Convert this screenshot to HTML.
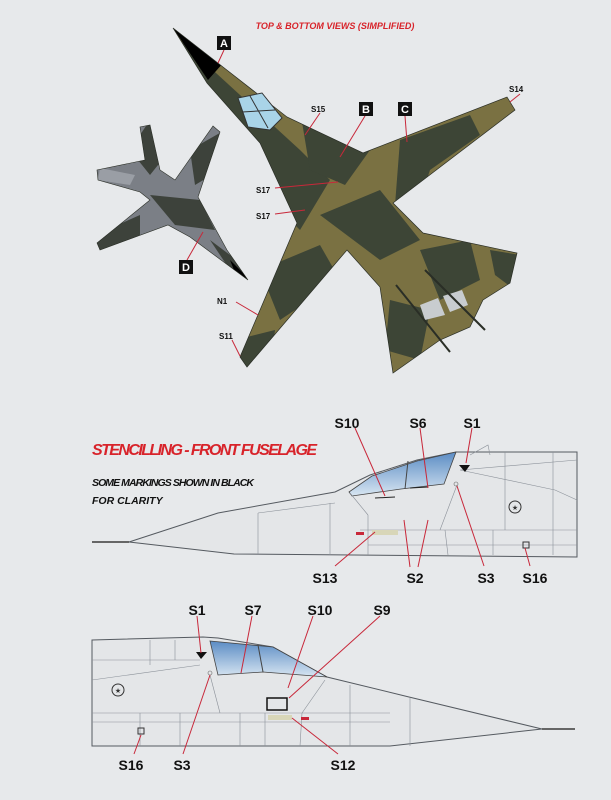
<!DOCTYPE html>
<html><head><meta charset="utf-8"><style>
html,body{margin:0;padding:0;background:#e7e9eb;}
svg{display:block}
.l{font-family:"Liberation Sans",sans-serif;font-weight:bold;font-size:14px;fill:#111;}
.r{stroke:#c8283a;stroke-width:1;fill:none}
.p{stroke:#8a9098;stroke-width:.6;fill:none}
</style></head><body>
<svg width="611" height="800" viewBox="0 0 611 800" xmlns="http://www.w3.org/2000/svg">
<defs>
<linearGradient id="cg" x1="0" y1="0" x2="0" y2="1"><stop offset="0" stop-color="#5b8cc4"/><stop offset="1" stop-color="#d8e6f2"/></linearGradient>
<clipPath id="mj"><polygon points="173,28 223,67 287,117 363,153 507,97 515,110 393,203 423,233 517,253 510,283 483,300 470,327 440,340 393,373 380,287 347,250 247,367 240,357 297,223 260,143 207,83"/></clipPath>
<clipPath id="sj"><polygon points="248,280 227,250 198,197 220,132 213,126 175,180 160,170 150,125 140,127 145,160 97,170 98,180 140,192 150,200 97,243 100,250 168,225 190,237"/></clipPath>
</defs>
<rect width="611" height="800" fill="#e7e9eb"/>
<text x="335" y="29" text-anchor="middle" font-family="Liberation Sans,sans-serif" font-style="italic" font-weight="bold" font-size="9" fill="#d8232a">TOP &amp; BOTTOM VIEWS (SIMPLIFIED)</text>

<!-- main jet -->
<g clip-path="url(#mj)">
<rect x="150" y="20" width="400" height="360" fill="#7a7142"/>
<path d="M180,40 L300,150 L330,180 L300,230 L250,180 Z" fill="#3d4536"/>
<path d="M300,110 L370,150 L345,185 L310,170 Z" fill="#3d4536"/>
<path d="M400,140 L470,115 L480,135 L430,170 L420,200 L395,205 Z" fill="#3d4536"/>
<path d="M320,215 L380,190 L420,240 L380,260 Z" fill="#3d4536"/>
<path d="M260,270 L320,245 L340,280 L280,320 Z" fill="#3d4536"/>
<path d="M235,340 L275,330 L270,370 L235,370 Z" fill="#3d4536"/>
<path d="M420,250 L470,240 L480,280 L440,300 Z" fill="#3d4536"/>
<path d="M390,300 L430,310 L420,360 L385,350 Z" fill="#3d4536"/>
<path d="M490,250 L520,255 L515,290 L495,275 Z" fill="#3d4536"/>
<polygon points="173,28 224,62 208,80" fill="#000"/>
</g>
<polygon points="173,28 223,67 287,117 363,153 507,97 515,110 393,203 423,233 517,253 510,283 483,300 470,327 440,340 393,373 380,287 347,250 247,367 240,357 297,223 260,143 207,83" fill="none" stroke="#2a2e26" stroke-width=".7"/>
<polygon points="238,98 262,93 282,118 270,130 248,127" fill="#a9d4e8" stroke="#333" stroke-width="1"/>
<line x1="250" y1="96" x2="268" y2="128" stroke="#333"/><line x1="242" y1="112" x2="275" y2="110" stroke="#333"/>
<polygon points="443,296 462,290 468,305 450,312" fill="#c8cccf"/>
<polygon points="420,305 438,298 445,315 425,320" fill="#c8cccf"/>
<line x1="396" y1="285" x2="450" y2="352" stroke="#2a2e26" stroke-width="2"/>
<line x1="425" y1="270" x2="485" y2="330" stroke="#2a2e26" stroke-width="2"/>

<!-- small jet -->
<g clip-path="url(#sj)">
<rect x="90" y="120" width="170" height="170" fill="#7b7f86"/>
<path d="M150,120 L170,150 L150,175 L130,150 Z" fill="#3d423b"/>
<path d="M190,150 L225,130 L220,170 L195,185 Z" fill="#3d423b"/>
<path d="M150,195 L200,200 L215,230 L175,225 Z" fill="#3d423b"/>
<path d="M95,235 L140,215 L140,235 L100,255 Z" fill="#3d423b"/>
<path d="M210,240 L250,270 L240,285 Z" fill="#3d423b"/>
<path d="M100,168 L135,175 L130,185 L98,180 Z" fill="#9a9ea5"/>
<path d="M230,260 L255,285 L240,285 Z" fill="#000"/>
</g>
<polygon points="248,280 227,250 198,197 220,132 213,126 175,180 160,170 150,125 140,127 145,160 97,170 98,180 140,192 150,200 97,243 100,250 168,225 190,237" fill="none" stroke="#2a2e26" stroke-width=".6"/>

<!-- labels top -->
<g font-family="Liberation Sans,sans-serif" font-weight="bold" font-size="11" text-anchor="middle">
<rect x="217" y="36" width="14" height="14" fill="#111"/><text x="224" y="47" fill="#fff">A</text>
<rect x="359" y="102" width="14" height="14" fill="#111"/><text x="366" y="113" fill="#fff">B</text>
<rect x="398" y="102" width="14" height="14" fill="#111"/><text x="405" y="113" fill="#fff">C</text>
<rect x="179" y="260" width="14" height="14" fill="#111"/><text x="186" y="271" fill="#fff">D</text>
</g>
<g class="r">
<line x1="224" y1="50" x2="218" y2="63"/>
<line x1="365" y1="116" x2="340" y2="157"/>
<line x1="405" y1="116" x2="407" y2="142"/>
<line x1="187" y1="260" x2="203" y2="232"/>
<line x1="520" y1="94" x2="510" y2="102"/>
<line x1="320" y1="113" x2="305" y2="135"/>
<line x1="275" y1="188" x2="338" y2="182"/>
<line x1="275" y1="214" x2="305" y2="210"/>
<line x1="236" y1="302" x2="258" y2="315"/>
<line x1="232" y1="340" x2="240" y2="356"/>
</g>
<g font-family="Liberation Sans,sans-serif" font-weight="bold" font-size="8" fill="#111">
<text x="509" y="92">S14</text><text x="311" y="112">S15</text>
<text x="256" y="193">S17</text><text x="256" y="219">S17</text>
<text x="217" y="304">N1</text><text x="219" y="339">S11</text>
</g>

<!-- heading -->
<text x="92" y="455" font-family="Liberation Sans,sans-serif" font-style="italic" font-weight="bold" font-size="16" fill="#d8232a" textLength="225">STENCILLING - FRONT FUSELAGE</text>
<text x="92" y="486" font-family="Liberation Sans,sans-serif" font-style="italic" font-weight="bold" font-size="10.5" fill="#111" textLength="162">SOME MARKINGS SHOWN IN BLACK</text>
<text x="92" y="504" font-family="Liberation Sans,sans-serif" font-style="italic" font-weight="bold" font-size="10.5" fill="#111">FOR CLARITY</text>

<!-- upper fuselage -->
<rect x="92" y="541" width="37" height="2" fill="#666"/>
<path d="M129,542 L218,513 L335,492 L370,475 L417,460 L456,452 L577,452 L577,557 L234,554 Z" fill="#e4e6e8" stroke="#555a60" stroke-width="1"/>
<polygon points="349,492 372,476 417,461 456,452 444,484 401,489 352,496" fill="url(#cg)" stroke="#444" stroke-width=".8"/>
<line x1="408" y1="461" x2="405" y2="489" stroke="#444"/>
<g class="p">
<path d="M258,513 L258,555 M258,513 L335,503 M330,503 L330,555 M368,515 L368,555 M368,545 L577,545 M360,530 L577,530 M457,485 L440,530 M460,470 L577,460 M460,470 L555,490 L577,500 M505,452 L505,530 M553,452 L553,555 M493,530 L493,555 M445,530 L448,555 M470,455 L488,445 L490,455 M350,493 L368,515"/>
</g>
<polygon points="459,465 470,465 465,472" fill="#111"/>
<circle cx="456" cy="484" r="2" fill="none" stroke="#666" stroke-width=".6"/>
<circle cx="515" cy="507" r="6" fill="none" stroke="#333" stroke-width="1"/>
<text x="515" y="510" text-anchor="middle" font-size="7" fill="#333">★</text>
<rect x="372" y="530" width="26" height="5" fill="#d8d6b8"/>
<rect x="356" y="532" width="8" height="3" fill="#c8283a"/>
<rect x="523" y="542" width="6" height="6" fill="none" stroke="#333"/>
<line x1="375" y1="498" x2="395" y2="497" stroke="#222"/>
<line x1="410" y1="488" x2="428" y2="487" stroke="#222"/>
<g class="r">
<line x1="355" y1="428" x2="385" y2="496"/>
<line x1="420" y1="428" x2="428" y2="488"/>
<line x1="472" y1="428" x2="466" y2="463"/>
<line x1="335" y1="566" x2="375" y2="532"/>
<line x1="410" y1="567" x2="404" y2="520"/>
<line x1="418" y1="567" x2="428" y2="520"/>
<line x1="484" y1="566" x2="457" y2="486"/>
<line x1="530" y1="566" x2="525" y2="548"/>
</g>
<g class="l" text-anchor="middle">
<text x="347" y="428">S10</text><text x="418" y="428">S6</text><text x="472" y="428">S1</text>
<text x="325" y="583">S13</text><text x="415" y="583">S2</text><text x="486" y="583">S3</text><text x="535" y="583">S16</text>
</g>

<!-- lower fuselage -->
<rect x="542" y="728" width="33" height="2" fill="#666"/>
<path d="M92,640 L203,637 L218,638 L273,647 L327,677 L409,697 L542,729 L390,746 L92,746 Z" fill="#e4e6e8" stroke="#555a60" stroke-width="1"/>
<polygon points="210,641 273,647 327,677 263,672 218,675" fill="url(#cg)" stroke="#444" stroke-width=".8"/>
<line x1="258" y1="645" x2="263" y2="672" stroke="#444"/>
<g class="p">
<path d="M92,713 L390,713 M92,722 L390,722 M325,680 L302,713 M302,713 L300,746 M210,675 L220,713 M92,660 L200,660 M92,680 L200,665 M350,685 L350,746 M410,698 L410,746 M140,713 L140,746 M180,713 L180,746 M240,713 L240,746 M265,713 L265,746 M175,640 L175,660 M150,640 L150,665"/>
</g>
<polygon points="196,652 207,652 201,659" fill="#111"/>
<circle cx="210" cy="673" r="2" fill="none" stroke="#666" stroke-width=".6"/>
<circle cx="118" cy="690" r="6" fill="none" stroke="#333" stroke-width="1"/>
<text x="118" y="693" text-anchor="middle" font-size="7" fill="#333">★</text>
<rect x="267" y="698" width="20" height="12" fill="none" stroke="#111" stroke-width="1.5"/>
<rect x="268" y="715" width="24" height="5" fill="#d8d6b8"/>
<rect x="301" y="717" width="8" height="3" fill="#c8283a"/>
<rect x="138" y="728" width="6" height="6" fill="none" stroke="#333"/>
<g class="r">
<line x1="197" y1="616" x2="201" y2="653"/>
<line x1="252" y1="616" x2="241" y2="673"/>
<line x1="313" y1="616" x2="288" y2="688"/>
<line x1="380" y1="616" x2="289" y2="698"/>
<line x1="134" y1="754" x2="141" y2="735"/>
<line x1="183" y1="754" x2="210" y2="675"/>
<line x1="338" y1="754" x2="292" y2="718"/>
</g>
<g class="l" text-anchor="middle">
<text x="197" y="615">S1</text><text x="253" y="615">S7</text><text x="320" y="615">S10</text><text x="382" y="615">S9</text>
<text x="131" y="770">S16</text><text x="182" y="770">S3</text><text x="343" y="770">S12</text>
</g>
</svg>
</body></html>
